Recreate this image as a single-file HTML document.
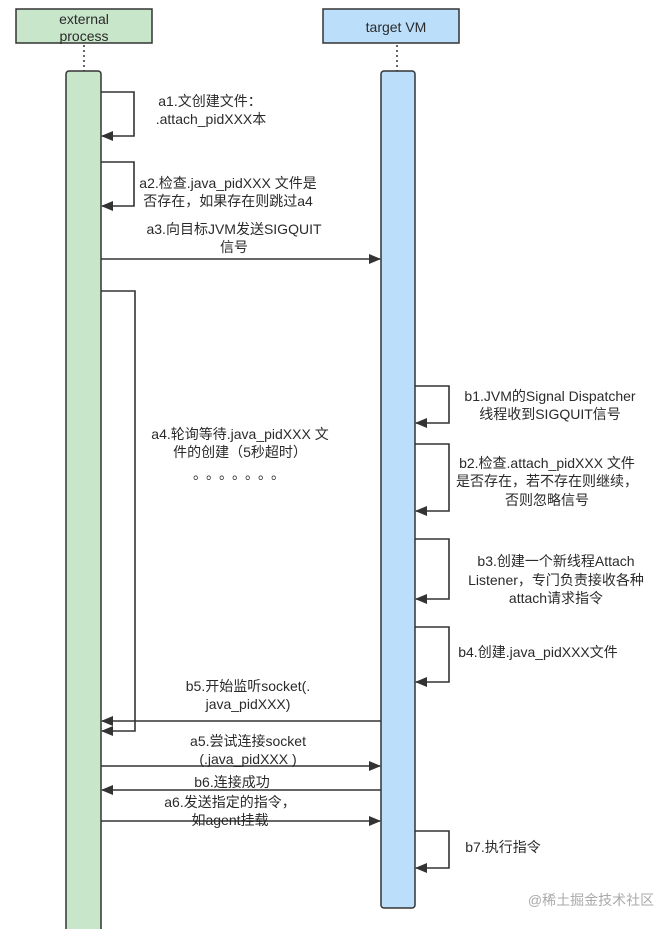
<!DOCTYPE html>
<html><head><meta charset="utf-8"><style>
html,body{margin:0;padding:0;background:#fff;}
svg{display:block;}
text{font-family:"Liberation Sans","Noto Sans CJK SC",sans-serif;font-size:14px;fill:#2a2a2a;text-anchor:middle;}
</style></head><body>
<svg width="664" height="929" viewBox="0 0 664 929" xmlns="http://www.w3.org/2000/svg">
<defs>
<marker id="ah" markerWidth="12" markerHeight="10" refX="11" refY="5" orient="auto" markerUnits="userSpaceOnUse">
<path d="M0,0 L12,5 L0,10 Z" fill="#333"/>
</marker>
</defs>
<rect x="16" y="9" width="136" height="34" fill="#c8e6c9" stroke="#333" stroke-width="1.5"/>
<text x="84" y="24">external</text>
<text x="84" y="41">process</text>
<rect x="323" y="9" width="136" height="34" fill="#bbdefb" stroke="#333" stroke-width="1.5"/>
<text x="396" y="32">target VM</text>
<line x1="84" y1="45" x2="84" y2="71" stroke="#333" stroke-width="1.5" stroke-dasharray="2,3"/>
<line x1="397" y1="45" x2="397" y2="71" stroke="#333" stroke-width="1.5" stroke-dasharray="2,3"/>
<rect x="66" y="71" width="35" height="870" rx="3" fill="#c8e6c9" stroke="#333" stroke-width="1.5"/>
<rect x="381" y="71" width="34" height="837" rx="3" fill="#bbdefb" stroke="#333" stroke-width="1.5"/>
<g fill="none" stroke="#333" stroke-width="1.6">
<polyline points="101,92 134,92 134,136 102,136" marker-end="url(#ah)"/>
<polyline points="101,162 134,162 134,206 102,206" marker-end="url(#ah)"/>
<line x1="101" y1="259" x2="380" y2="259" marker-end="url(#ah)"/>
<polyline points="101,291 135,291 135,731 102,731" marker-end="url(#ah)"/>
<polyline points="415,386 449,386 449,423 416,423" marker-end="url(#ah)"/>
<polyline points="415,444 449,444 449,511 416,511" marker-end="url(#ah)"/>
<polyline points="415,539 449,539 449,599 416,599" marker-end="url(#ah)"/>
<polyline points="415,627 449,627 449,682 416,682" marker-end="url(#ah)"/>
<polyline points="415,831 449,831 449,868 416,868" marker-end="url(#ah)"/>
<line x1="381" y1="721" x2="102" y2="721" marker-end="url(#ah)"/>
<line x1="101" y1="766" x2="380" y2="766" marker-end="url(#ah)"/>
<line x1="381" y1="790" x2="102" y2="790" marker-end="url(#ah)"/>
<line x1="101" y1="821" x2="380" y2="821" marker-end="url(#ah)"/>
</g>
<text x="210" y="106">a1.文创建文件：</text>
<text x="211" y="124">.attach_pidXXX本</text>
<text x="228" y="188">a2.检查.java_pidXXX 文件是</text>
<text x="228" y="206">否存在，如果存在则跳过a4</text>
<text x="234" y="234">a3.向目标JVM发送SIGQUIT</text>
<text x="234" y="252">信号</text>
<text x="240" y="439">a4.轮询等待.java_pidXXX 文</text>
<text x="240" y="457">件的创建（5秒超时）</text>
<text x="242" y="479" style="letter-spacing:6px">。。。。。。。</text>
<text x="550" y="401">b1.JVM的Signal Dispatcher</text>
<text x="550" y="419">线程收到SIGQUIT信号</text>
<text x="547" y="468">b2.检查.attach_pidXXX 文件</text>
<text x="547" y="486">是否存在，若不存在则继续，</text>
<text x="547" y="505">否则忽略信号</text>
<text x="556" y="566">b3.创建一个新线程Attach</text>
<text x="556" y="585">Listener，专门负责接收各种</text>
<text x="556" y="603">attach请求指令</text>
<text x="538" y="657">b4.创建.java_pidXXX文件</text>
<text x="248" y="691">b5.开始监听socket(.</text>
<text x="248" y="709">java_pidXXX)</text>
<text x="248" y="746">a5.尝试连接socket</text>
<text x="248" y="764">(.java_pidXXX )</text>
<text x="232" y="787">b6.连接成功</text>
<text x="230" y="807">a6.发送指定的指令，</text>
<text x="230" y="825">如agent挂载</text>
<text x="503" y="852">b7.执行指令</text>
<text x="591" y="905" style="fill:#aaa;font-size:14px">@稀土掘金技术社区</text>
</svg>
</body></html>
